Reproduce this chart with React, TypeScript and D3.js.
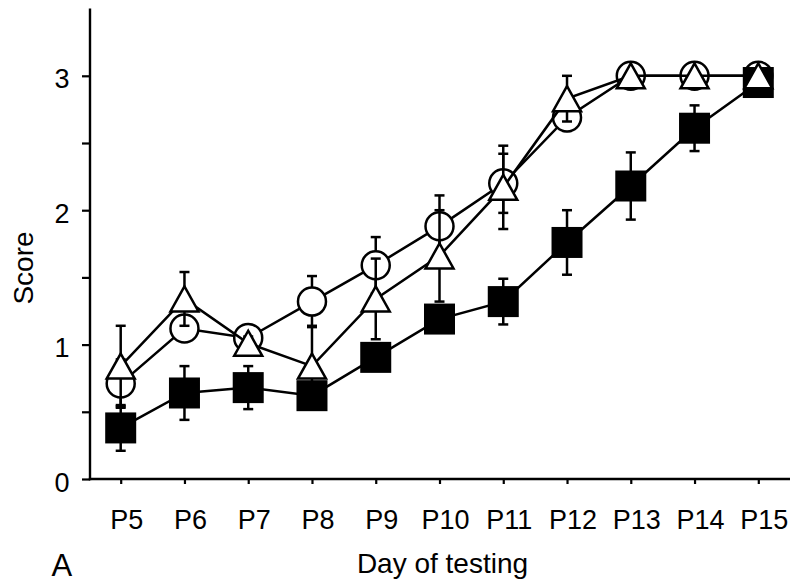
import React, { useRef, useEffect } from 'react';
import * as d3 from 'd3';

const days = ['P5', 'P6', 'P7', 'P8', 'P9', 'P10', 'P11', 'P12', 'P13', 'P14', 'P15'];
const yTicks = [0, 0.5, 1, 1.5, 2, 2.5, 3];

const circleMean = [0.71, 1.12, 1.05, 1.32, 1.59, 1.88, 2.2, 2.69, 3.0, 3.0, 3.0];
const circleErr = [0.18, 0.08, 0.05, 0.19, 0.21, 0.23, 0.22, 0.1, 0, 0, 0];

const squareMean = [0.38, 0.64, 0.68, 0.62, 0.905, 1.19, 1.32, 1.76, 2.18, 2.61, 2.95];
const squareErr = [0.17, 0.2, 0.16, 0.1, 0.1, 0.1, 0.17, 0.24, 0.25, 0.17, 0.05];

const triangleMean = [0.84, 1.34, 1.01, 0.84, 1.34, 1.66, 2.17, 2.83, 3.0, 3.0, 3.0];
const triangleErr = [0.3, 0.2, 0.05, 0.3, 0.3, 0.34, 0.31, 0.17, 0, 0, 0];

export default function App() {
  const ref = useRef<SVGSVGElement>(null);

  useEffect(() => {
    const svg = d3.select(ref.current);
    svg.selectAll('*').remove();
    const font = "'Liberation Sans', Arial, sans-serif";
    const sw = 2.5;

    const x = d3.scalePoint<string>().domain(days).range([120.7, 758.3]);
    const y = d3.scaleLinear().domain([0, 3.5]).range([479, 8.6]);
    const axisX0 = 90;
    const axisX1 = 790;

    // Y axis
    const gy = svg.append('g').attr('transform', `translate(${axisX0},0)`);
    gy.call(
      d3.axisLeft(y)
        .tickValues(yTicks)
        .tickSize(8)
        .tickSizeOuter(0)
        .tickFormat(() => '') as any
    );
    gy.select('.domain').remove();
    gy.selectAll('.tick line').attr('stroke', '#000').attr('stroke-width', 2.2);
    gy.append('line')
      .attr('x1', 0).attr('x2', 0)
      .attr('y1', y(3.5)).attr('y2', y(0) + 1.2)
      .attr('stroke', '#000').attr('stroke-width', 2.4);
    yTicks.filter((t) => Number.isInteger(t)).forEach((t) => {
      svg.append('text')
        .attr('x', 69.5)
        .attr('y', y(t) + 12.6)
        .attr('text-anchor', 'end')
        .attr('font-family', font)
        .attr('font-size', 27)
        .attr('fill', '#000')
        .text(String(t));
    });

    // X axis
    const gx = svg.append('g').attr('transform', `translate(0,${y(0)})`);
    gx.call(d3.axisBottom(x).tickSize(5).tickSizeOuter(0).tickFormat(() => '') as any);
    gx.select('.domain').remove();
    gx.selectAll('.tick line').attr('stroke', '#000').attr('stroke-width', 2.2);
    gx.append('line')
      .attr('x1', axisX0 - 1.2).attr('x2', axisX1)
      .attr('y1', 0).attr('y2', 0)
      .attr('stroke', '#000').attr('stroke-width', 2.4);
    days.forEach((d) => {
      svg.append('text')
        .attr('x', (x(d) as number) + 6)
        .attr('y', 529.3)
        .attr('text-anchor', 'middle')
        .attr('font-family', font)
        .attr('font-size', 27)
        .attr('fill', '#000')
        .text(d);
    });

    // Axis titles
    svg.append('text')
      .attr('x', 442.5).attr('y', 573.3)
      .attr('text-anchor', 'middle')
      .attr('font-family', font).attr('font-size', 28)
      .text('Day of testing');
    svg.append('text')
      .attr('transform', 'translate(33,268) rotate(-90)')
      .attr('text-anchor', 'middle')
      .attr('font-family', font).attr('font-size', 28)
      .text('Score');
    svg.append('text')
      .attr('x', 51.5).attr('y', 576)
      .attr('font-family', font).attr('font-size', 31)
      .text('A');

    const line = d3.line<number>()
      .x((_, i) => x(days[i]) as number)
      .y((v) => y(v));

    type Kind = 'circle' | 'square' | 'triangle';
    const drawSeries = (mean: number[], err: number[], kind: Kind) => {
      const g = svg.append('g');
      g.append('path')
        .attr('d', line(mean) as string)
        .attr('fill', 'none')
        .attr('stroke', '#000')
        .attr('stroke-width', sw);
      mean.forEach((m, i) => {
        const e = err[i];
        if (!e) return;
        const cx = x(days[i]) as number;
        const eg = g.append('g').attr('stroke', '#000').attr('stroke-width', sw);
        eg.append('line').attr('x1', cx).attr('x2', cx).attr('y1', y(m - e)).attr('y2', y(m + e));
        [m - e, m + e].forEach((v) => {
          eg.append('line').attr('x1', cx - 5).attr('x2', cx + 5).attr('y1', y(v)).attr('y2', y(v));
        });
      });
      mean.forEach((m, i) => {
        const cx = x(days[i]) as number;
        const cy = y(m);
        if (kind === 'circle') {
          g.append('circle')
            .attr('cx', cx).attr('cy', cy).attr('r', 14)
            .attr('fill', '#fff').attr('stroke', '#000').attr('stroke-width', sw);
        } else if (kind === 'square') {
          g.append('rect')
            .attr('x', cx - 15.5).attr('y', cy - 15.5)
            .attr('width', 31).attr('height', 31)
            .attr('fill', '#000');
        } else {
          g.append('path')
            .attr('d', `M${cx},${cy - 12.5}L${cx + 14},${cy + 12.5}L${cx - 14},${cy + 12.5}Z`)
            .attr('fill', '#fff').attr('stroke', '#000').attr('stroke-width', sw)
            .attr('stroke-linejoin', 'miter');
        }
      });
    };

    drawSeries(circleMean, circleErr, 'circle');
    drawSeries(squareMean, squareErr, 'square');
    drawSeries(triangleMean, triangleErr, 'triangle');
  }, []);

  return (
    <svg
      ref={ref}
      width={800}
      height={587}
      style={{ position: 'absolute', left: 0, top: 0, background: '#fff' }}
    />
  );
}
